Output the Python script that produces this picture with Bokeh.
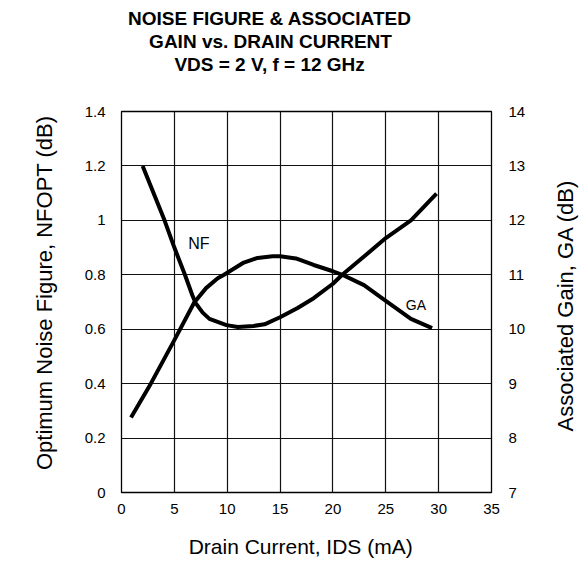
import math
from bokeh.plotting import figure
from bokeh.models import Range1d, LinearAxis, FixedTicker, Label, NumeralTickFormatter, Title
from bokeh.embed import file_html
from bokeh.resources import INLINE

# ---- data ----
current_nf = [2.0, 4.07, 5.0, 6.0, 6.7, 7.0, 7.68, 8.32, 9.93, 11.0, 12.5, 13.53,
              15.0, 16.66, 18.18, 20.0, 20.88, 22.94, 25.0, 27.38, 29.8]
nf_db = [1.2, 1.0, 0.9, 0.8, 0.725, 0.697, 0.661, 0.638, 0.615, 0.608, 0.612, 0.618,
         0.644, 0.678, 0.714, 0.767, 0.8, 0.867, 0.935, 1.0, 1.098]

current_ga = [0.9, 2.77, 5.0, 6.88, 8.0, 9.1, 9.7, 11.57, 12.87, 14.3, 15.0, 16.5,
              18.18, 20.0, 20.88, 22.94, 25.0, 27.38, 29.38]
ga_db = [8.38, 9.0, 9.8, 10.49, 10.755, 10.935, 11.0, 11.225, 11.31, 11.34, 11.34, 11.3,
         11.18, 11.065, 11.0, 10.81, 10.52, 10.19, 10.02]

x_ticks = [0, 5, 10, 15, 20, 25, 30, 35]
nf_ticks = [0, 0.2, 0.4, 0.6, 0.8, 1.0, 1.2, 1.4]
ga_ticks = [7, 8, 9, 10, 11, 12, 13, 14]

title_lines = ["NOISE FIGURE & ASSOCIATED", "GAIN vs. DRAIN CURRENT", "VDS = 2 V, f = 12 GHz"]
x_label = "Drain Current, IDS (mA)"
nf_label = "Optimum Noise Figure, NFOPT (dB)"
ga_label = "Associated Gain, GA (dB)"

FONT = "Liberation Sans"

# Arial / Liberation Sans bold advance widths (per 1000 em), for left-aligned title lines
BOLD = {' ': 278, ',': 278, '.': 278, '=': 584, '&': 722, '0': 556, '1': 556, '2': 556,
        'A': 722, 'C': 722, 'D': 722, 'E': 667, 'F': 611, 'G': 778, 'H': 722, 'I': 278,
        'N': 722, 'O': 778, 'R': 722, 'S': 667, 'T': 611, 'U': 722, 'V': 667,
        'f': 333, 's': 556, 'v': 556, 'z': 500}


def tw(s, size):
    return sum(BOLD.get(c, 600) for c in s) * size / 1000.0


LEFT = 121          # frame left (px)
TITLE_CENTER = 270  # title centre (px)
NBSP = "\u00a0"

p = figure(frame_width=370, frame_height=381,
           min_border_left=LEFT, min_border_right=86, min_border_top=111, min_border_bottom=68,
           x_range=Range1d(0, 35), y_range=Range1d(0, 1.4),
           output_backend="svg", toolbar_location=None)
p.background_fill_color = "white"
p.border_fill_color = "white"
p.outline_line_color = "black"
p.outline_line_width = 1.3
p.extra_y_ranges = {"gain": Range1d(7, 14)}

# axes
p.xaxis.ticker = FixedTicker(ticks=x_ticks)
p.yaxis.ticker = FixedTicker(ticks=nf_ticks)
p.yaxis.formatter = NumeralTickFormatter(format="0.[0]")
right = LinearAxis(y_range_name="gain", ticker=FixedTicker(ticks=ga_ticks))
p.add_layout(right, "right")

# no-break spaces only nudge the centred labels to the reference position
p.xaxis.axis_label = x_label + NBSP * 2
p.yaxis.axis_label = NBSP * 3 + nf_label
# read bottom-to-top like the reference; the label starts at the axis start,
# so it is padded with no-break spaces to sit centred on the frame
right.axis_label = NBSP * 10 + ga_label
right.axis_label_orientation = math.pi / 2
right.axis_label_align = "start"

for ax, so, lso, lsz in ((p.xaxis[0], 11, 18, "21px"), (p.yaxis[0], 16, 25, "22px"),
                         (right, 17, 37, "22px")):
    ax.major_tick_out = 0
    ax.major_tick_in = 0
    ax.minor_tick_out = 0
    ax.minor_tick_in = 0
    ax.axis_line_color = None
    ax.major_label_standoff = so
    ax.major_label_text_font = FONT
    ax.major_label_text_font_size = "15px"
    ax.major_label_text_color = "black"
    ax.axis_label_standoff = lso
    ax.axis_label_text_font = FONT
    ax.axis_label_text_font_size = lsz
    ax.axis_label_text_font_style = "normal"
    ax.axis_label_text_color = "black"

# grid
p.xgrid.ticker = FixedTicker(ticks=x_ticks)
p.ygrid.ticker = FixedTicker(ticks=nf_ticks)
for g in (p.xgrid[0], p.ygrid[0]):
    g.grid_line_color = "#111111"
    g.grid_line_width = 1.2

# curves
p.line(current_nf, nf_db, line_color="black", line_width=4, line_join="round")
p.line(current_ga, ga_db, y_range_name="gain", line_color="black", line_width=4, line_join="round")

# curve labels
p.add_layout(Label(x=7.32, y=0.914, text="NF", text_font=FONT, text_font_size="16px",
                   text_align="center", text_baseline="middle", text_color="black"))
p.add_layout(Label(x=26.9, y=0.69, text="GA", text_font=FONT, text_font_size="14px",
                   text_align="left", text_baseline="alphabetic", text_color="black"))

# blank spacer between the frame and the title block
p.add_layout(Title(text=NBSP, text_font=FONT, text_font_size="10px", standoff=24), "above")

# title: three stacked lines (first added sits nearest the frame)
for line in reversed(title_lines):
    t = Title(text=line, align="left", offset=TITLE_CENTER - LEFT - tw(line, 19) / 2,
              text_font=FONT, text_font_size="19px", text_font_style="bold",
              text_color="black", standoff=0)
    p.add_layout(t, "above")

open("out.html", "w").write(file_html(p, INLINE))
